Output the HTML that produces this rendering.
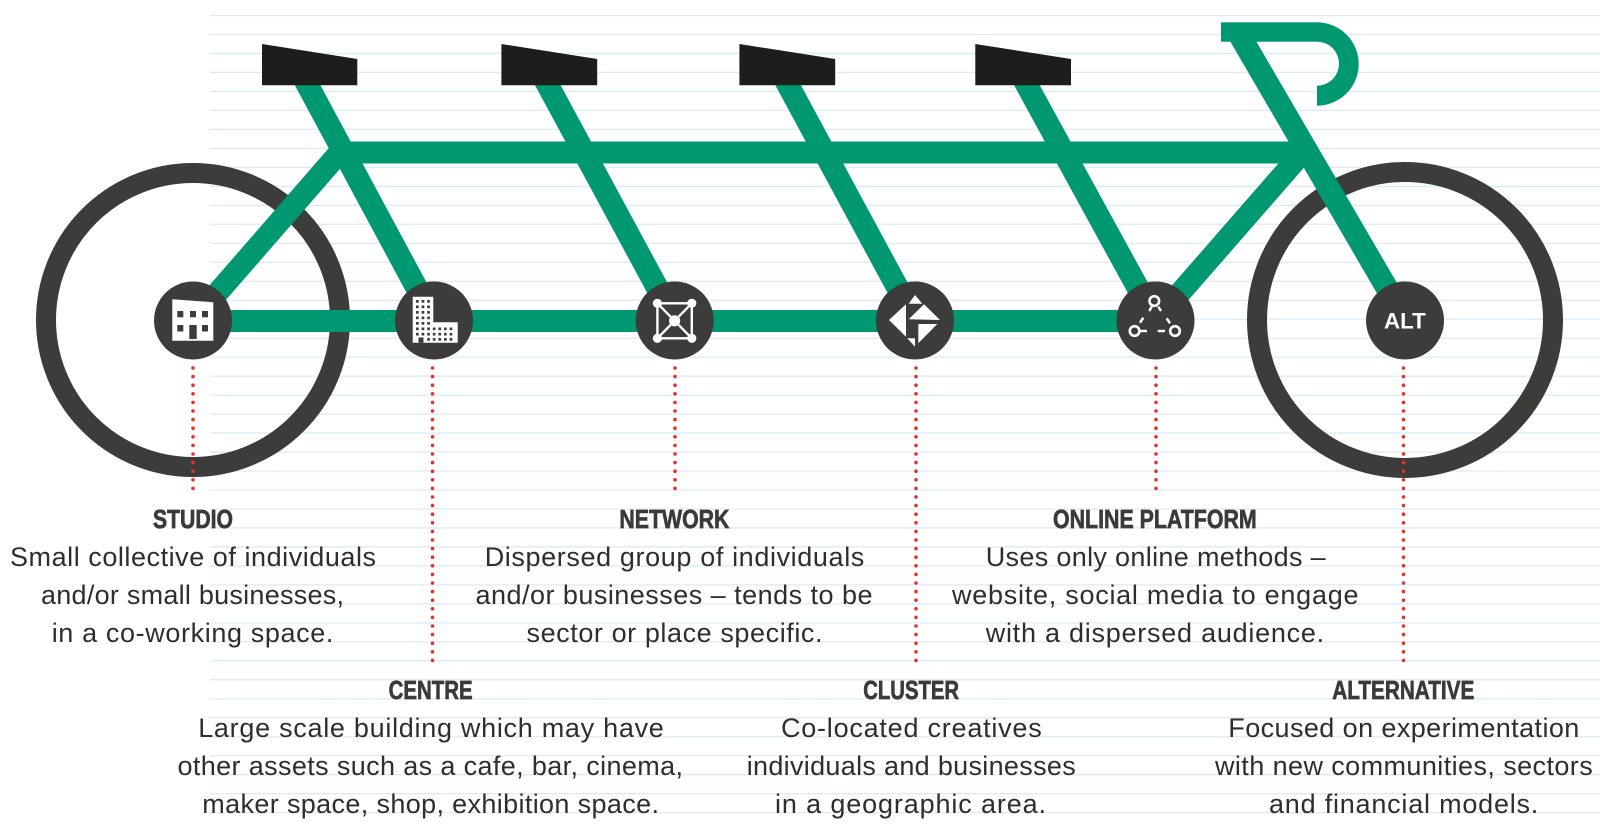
<!DOCTYPE html>
<html><head><meta charset="utf-8">
<style>
html,body{margin:0;padding:0;background:#fff;}
svg{display:block;}
.b{font-family:"Liberation Sans",sans-serif;font-size:27px;fill:#2f2e2d;}
.h{font-family:"Liberation Sans",sans-serif;font-size:26px;font-weight:bold;fill:#3a3a39;stroke:#3a3a39;stroke-width:0.7px;}
</style></head><body>
<svg width="1600" height="829" viewBox="0 0 1600 829" xmlns="http://www.w3.org/2000/svg">
<!-- ruled lines -->
<path stroke="#d9ecf9" stroke-width="1.3" fill="none" d="
M210,15.5H1600 M210,34.48H1600 M210,53.46H1600 M210,72.44H1600 M210,91.42H1600 M210,110.4H1600 M210,129.38H1600 M210,148.36H1600 M210,167.34H1600 M210,186.32H1600 M210,205.3H1600 M210,224.28H1600 M210,243.26H1600 M210,262.24H1600 M210,281.22H1600 M210,300.2H1600 M210,319.18H1600 M210,338.16H1600 M210,357.14H1600 M210,376.12H1600 M210,395.1H1600 M210,414.08H1600 M210,433.06H1600 M210,452.04H1600 M210,471.02H1600 M210,490H1600 M210,508.98H1600 M210,527.96H1600 M210,546.94H1600 M210,565.92H1600 M210,584.9H1600 M210,603.88H1600 M210,622.86H1600 M210,641.84H1600 M210,660.82H1600 M210,679.8H1600 M210,698.78H1600 M210,717.76H1600 M210,736.74H1600 M210,755.72H1600 M210,774.7H1600 M210,793.68H1600 M210,812.66H1600"/>

<!-- wheels -->
<circle cx="193" cy="320" r="147" fill="none" stroke="#3c3c3b" stroke-width="20"/>
<circle cx="1405" cy="320" r="148" fill="none" stroke="#3c3c3b" stroke-width="20"/>

<!-- frame -->
<g stroke="#009870" fill="none" stroke-linecap="butt">
  <line x1="193" y1="321" x2="1156" y2="321" stroke-width="22"/>
  <line x1="340" y1="152.5" x2="1307" y2="152.5" stroke-width="22"/>
  <line x1="193" y1="321" x2="340" y2="152" stroke-width="22"/>
  <line x1="1155.5" y1="321" x2="1303" y2="152" stroke-width="22"/>
  <line x1="304.8" y1="80" x2="434" y2="320" stroke-width="22.5"/>
  <line x1="545" y1="80" x2="674.7" y2="320" stroke-width="22.5"/>
  <line x1="785.3" y1="80" x2="915" y2="320" stroke-width="22.5"/>
  <line x1="1024" y1="80" x2="1155.5" y2="320" stroke-width="22.5"/>
</g>
<g fill="#009870">
  <polygon points="1230,41 1256,41 1418.5,320 1392.5,320"/>
  <rect x="1221" y="22.3" width="96" height="19.4"/>
  <path d="M1317,22.3 A41.7,41.7 0 0 1 1317,105.7 L1317,85.7 A22,22 0 0 0 1317,41.7 Z"/>
</g>

<!-- seats -->
<g fill="#1d1d1b">
  <polygon points="262,44 357.3,59 357.3,85.3 262,85.3"/>
  <polygon points="501.4,44 597.2,59 597.2,85.3 501.4,85.3"/>
  <polygon points="739.4,44 835.2,59 835.2,85.3 739.4,85.3"/>
  <polygon points="975.3,44 1071,59 1071,85.3 975.3,85.3"/>
</g>

<!-- nodes -->
<g fill="#3c3c3b">
  <circle cx="193" cy="320.5" r="39"/>
  <circle cx="434" cy="320.5" r="39"/>
  <circle cx="674.7" cy="320.5" r="39"/>
  <circle cx="915" cy="320.5" r="39"/>
  <circle cx="1155.5" cy="320.5" r="39"/>
  <circle cx="1405" cy="320.5" r="39"/>
</g>

<!-- studio icon -->
<polygon points="172.3,299.3 213.3,302.3 213.3,340.7 172.3,340.7" fill="#fff"/>
<g fill="#3c3c3b">
  <rect x="177.3" y="311" width="6" height="6.3"/>
  <rect x="190" y="311" width="6" height="6.3"/>
  <rect x="202" y="311" width="6" height="6.3"/>
  <rect x="177.3" y="325" width="6" height="6.5"/>
  <rect x="202" y="325" width="6" height="6.5"/>
  <rect x="189.3" y="325" width="7.4" height="14"/>
</g>

<!-- centre icon -->
<path d="M412.7,296.7 H433.3 V322.3 H457.7 V342.7 H412.7 Z" fill="#fff"/>
<g fill="#3c3c3b">
  <rect x="416" y="300" width="2.7" height="2.7"/><rect x="421.6" y="300" width="2.7" height="2.7"/><rect x="427.2" y="300" width="2.7" height="2.7"/>
  <rect x="416" y="305.5" width="2.7" height="2.7"/><rect x="421.6" y="305.5" width="2.7" height="2.7"/><rect x="427.2" y="305.5" width="2.7" height="2.7"/>
  <rect x="416" y="311" width="2.7" height="2.7"/><rect x="421.6" y="311" width="2.7" height="2.7"/><rect x="427.2" y="311" width="2.7" height="2.7"/>
  <rect x="416" y="316.5" width="2.7" height="2.7"/><rect x="421.6" y="316.5" width="2.7" height="2.7"/><rect x="427.2" y="316.5" width="2.7" height="2.7"/>
  <rect x="416" y="322" width="2.7" height="2.7"/><rect x="421.6" y="322" width="2.7" height="2.7"/><rect x="427.2" y="322" width="2.7" height="2.7"/>
  <rect x="416" y="327.5" width="2.7" height="2.7"/><rect x="421.6" y="327.5" width="2.7" height="2.7"/><rect x="427.2" y="327.5" width="2.7" height="2.7"/><rect x="432.8" y="327.5" width="2.7" height="2.7"/><rect x="438.4" y="327.5" width="2.7" height="2.7"/><rect x="444" y="327.5" width="2.7" height="2.7"/><rect x="449.6" y="327.5" width="2.7" height="2.7"/>
  <rect x="416" y="332.8" width="2.7" height="2.7"/><rect x="421.6" y="332.8" width="2.7" height="2.7"/><rect x="427.2" y="332.8" width="2.7" height="2.7"/><rect x="432.8" y="332.8" width="2.7" height="2.7"/><rect x="438.4" y="332.8" width="2.7" height="2.7"/><rect x="444" y="332.8" width="2.7" height="2.7"/><rect x="449.6" y="332.8" width="2.7" height="2.7"/>
  <rect x="427.2" y="338" width="2.7" height="2.7"/><rect x="432.8" y="338" width="2.7" height="2.7"/><rect x="438.4" y="338" width="2.7" height="2.7"/><rect x="444" y="338" width="2.7" height="2.7"/><rect x="449.6" y="338" width="2.7" height="2.7"/>
  <rect x="418.5" y="337.5" width="5" height="5.2"/>
</g>

<!-- network icon -->
<g stroke="#fff" stroke-width="2.4" fill="none">
  <rect x="657.4" y="303.3" width="34.4" height="35"/>
  <line x1="657.4" y1="303.3" x2="691.8" y2="338.3"/>
  <line x1="691.8" y1="303.3" x2="657.4" y2="338.3"/>
</g>
<g fill="#fff">
  <circle cx="657.4" cy="303.3" r="4.6"/><circle cx="691.8" cy="303.3" r="4.6"/>
  <circle cx="657.4" cy="338.3" r="4.6"/><circle cx="691.8" cy="338.3" r="4.6"/>
  <circle cx="674.6" cy="320.8" r="5.6"/>
</g>

<!-- cluster icon -->
<g fill="#fff">
  <polygon points="889,320 906,304.3 906,336.7"/>
  <polygon points="915,295 922.3,303.7 908.7,303.7"/>
  <polygon points="908.7,319.3 924,304.3 940,320"/>
  <polygon points="918.3,324 937.3,324 918.3,343.3"/>
  <polygon points="907.3,338.3 915,338.3 915,346.7"/>
</g>

<!-- online icon -->
<g stroke="#fff" stroke-width="2.4" stroke-linecap="butt">
  <line x1="1151.7" y1="306.7" x2="1149.3" y2="311"/>
  <line x1="1143.3" y1="317.7" x2="1140" y2="322.7"/>
  <line x1="1140" y1="331" x2="1147" y2="331"/>
  <line x1="1157.7" y1="331" x2="1165" y2="331"/>
  <line x1="1158.3" y1="306.7" x2="1161" y2="311"/>
  <line x1="1166.7" y1="318.3" x2="1170" y2="323.3"/>
</g>
<g stroke="#fff" stroke-width="2.6" fill="#3c3c3b">
  <circle cx="1154.3" cy="301" r="4.8"/>
  <circle cx="1134.6" cy="331" r="4.8"/>
  <circle cx="1175" cy="331" r="4.8"/>
</g>

<!-- ALT -->
<text x="1384" y="328.3" font-family="Liberation Sans, sans-serif" font-size="22" font-weight="bold" fill="#fff" textLength="41.7" lengthAdjust="spacingAndGlyphs">ALT</text>

<!-- dotted lines -->
<g stroke="#e5302b" stroke-width="3.6" stroke-linecap="round" stroke-dasharray="0 8.6" fill="none">
  <line x1="193" y1="368" x2="193" y2="490"/>
  <line x1="432.5" y1="368" x2="432.5" y2="661"/>
  <line x1="675" y1="368" x2="675" y2="490"/>
  <line x1="916" y1="368" x2="916" y2="661"/>
  <line x1="1156" y1="368" x2="1156" y2="490"/>
  <line x1="1403.5" y1="368" x2="1403.5" y2="661"/>
</g>

<!-- headings -->
<text class="h" x="153" y="528" textLength="80" lengthAdjust="spacingAndGlyphs">STUDIO</text>
<text class="h" x="619.4" y="528" textLength="110" lengthAdjust="spacingAndGlyphs">NETWORK</text>
<text class="h" x="1053" y="528" textLength="203.7" lengthAdjust="spacingAndGlyphs">ONLINE PLATFORM</text>
<text class="h" x="388.6" y="699" textLength="84" lengthAdjust="spacingAndGlyphs">CENTRE</text>
<text class="h" x="863.3" y="699" textLength="95.7" lengthAdjust="spacingAndGlyphs">CLUSTER</text>
<text class="h" x="1332.3" y="699" textLength="142" lengthAdjust="spacingAndGlyphs">ALTERNATIVE</text>

<!-- body text -->
<text class="b" x="10" y="566" textLength="366">Small collective of individuals</text>
<text class="b" x="41" y="604" textLength="303">and/or small businesses,</text>
<text class="b" x="51.7" y="642" textLength="281.7">in a co-working space.</text>

<text class="b" x="484.7" y="566" textLength="379.6">Dispersed group of individuals</text>
<text class="b" x="475.5" y="604" textLength="397">and/or businesses – tends to be</text>
<text class="b" x="526.5" y="642" textLength="296">sector or place specific.</text>

<text class="b" x="985.7" y="566" textLength="340">Uses only online methods –</text>
<text class="b" x="952" y="604" textLength="406.5">website, social media to engage</text>
<text class="b" x="985.7" y="642" textLength="338.5">with a dispersed audience.</text>

<text class="b" x="198.2" y="737" textLength="465.6">Large scale building which may have</text>
<text class="b" x="177.5" y="775" textLength="505.5">other assets such as a cafe, bar, cinema,</text>
<text class="b" x="202.3" y="813" textLength="456.7">maker space, shop, exhibition space.</text>

<text class="b" x="781" y="737" textLength="260.7">Co-located creatives</text>
<text class="b" x="746.7" y="775" textLength="329">individuals and businesses</text>
<text class="b" x="775" y="813" textLength="271">in a geographic area.</text>

<text class="b" x="1228.3" y="737" textLength="351">Focused on experimentation</text>
<text class="b" x="1215" y="775" textLength="377.7">with new communities, sectors</text>
<text class="b" x="1269" y="813" textLength="269.3">and financial models.</text>
</svg>
</body></html>
